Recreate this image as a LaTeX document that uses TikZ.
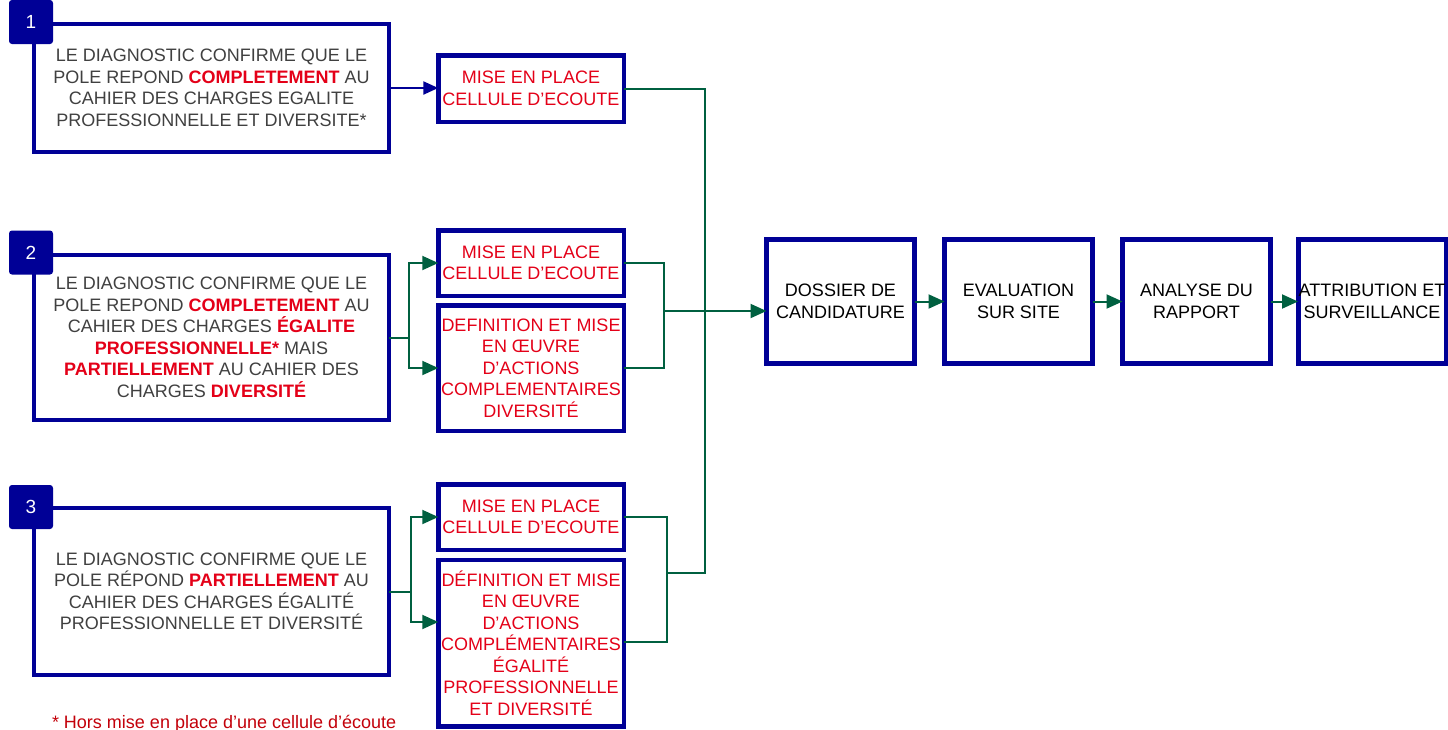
\documentclass[tikz,border=0pt]{standalone}
\usepackage{fontspec}
\setmainfont{Liberation Sans}
\usetikzlibrary{arrows.meta}
\definecolor{navy}{RGB}{0,0,150}
\definecolor{dgreen}{RGB}{0,96,64}
\definecolor{redT}{RGB}{228,0,24}
\definecolor{grayT}{RGB}{64,64,64}
\definecolor{footred}{RGB}{195,0,10}
\newcommand{\rb}[1]{\textcolor{redT}{\bfseries #1}}
\tikzset{
  every node/.style={inner sep=0pt, outer sep=0pt},
  txt/.style={font=\fontsize{18}{21.5}\selectfont, align=center},
  bigbox/.style={draw=navy, line width=4pt, fill=white, txt, text=grayT, minimum width=355pt},
  smallbox/.style={draw=navy, line width=4.5pt, fill=white, txt, text=redT, minimum width=185.5pt},
  stepbox/.style={draw=navy, line width=5pt, fill=white, txt, text=black, minimum width=148pt, minimum height=124pt},
  badge/.style={fill=navy, rounded corners=3pt, minimum width=44pt, minimum height=44pt, text=white, font=\fontsize{19}{20}\selectfont},
  gline/.style={draw=dgreen, line width=2pt},
  garrow/.style={gline, -{Triangle[length=16pt,width=14pt]}},
  barrow/.style={draw=navy, line width=2.4pt, -{Triangle[length=15pt,width=13pt]}},
}
\begin{document}
\begin{tikzpicture}[x=1pt,y=-1pt]
\useasboundingbox (0,0) rectangle (1448,729);
\fill[white] (0,0) rectangle (1448,729);

% left boxes
\node[bigbox, minimum height=128pt] (b1) at (211.5,88) {LE DIAGNOSTIC CONFIRME QUE LE\\POLE REPOND \rb{COMPLETEMENT} AU\\CAHIER DES CHARGES EGALITE\\PROFESSIONNELLE ET DIVERSITE*};
\node[badge] (n1) at (31,22) {1};

\node[bigbox, minimum height=165pt] (b2) at (211.5,337.5) {LE DIAGNOSTIC CONFIRME QUE LE\\POLE REPOND \rb{COMPLETEMENT} AU\\CAHIER DES CHARGES \rb{ÉGALITE}\\\rb{PROFESSIONNELLE*} MAIS\\\rb{PARTIELLEMENT} AU CAHIER DES\\CHARGES \rb{DIVERSITÉ}};
\node[badge] (n2) at (31,252.5) {2};

\node[bigbox, minimum height=167pt] (b3) at (211.5,591.5) {LE DIAGNOSTIC CONFIRME QUE LE\\POLE RÉPOND \rb{PARTIELLEMENT} AU\\CAHIER DES CHARGES ÉGALITÉ\\PROFESSIONNELLE ET DIVERSITÉ};
\node[badge] (n3) at (31,507) {3};

% middle boxes
\node[smallbox, minimum height=66.5pt] (c1) at (531,88.5) {MISE EN PLACE\\CELLULE D’ECOUTE};
\node[smallbox, minimum height=65.5pt] (c2a) at (531,263) {MISE EN PLACE\\CELLULE D’ECOUTE};
\node[smallbox, minimum height=125.5pt] (c2b) at (531,368) {DEFINITION ET MISE\\EN ŒUVRE\\D’ACTIONS\\COMPLEMENTAIRES\\DIVERSITÉ};
\node[smallbox, minimum height=65.5pt] (c3a) at (531,517) {MISE EN PLACE\\CELLULE D’ECOUTE};
\node[smallbox, minimum height=166.5pt] (c3b) at (531,643) {DÉFINITION ET MISE\\EN ŒUVRE\\D’ACTIONS\\COMPLÉMENTAIRES\\ÉGALITÉ\\PROFESSIONNELLE\\ET DIVERSITÉ};

% right chain
\node[stepbox] (d1) at (840.5,301.5) {DOSSIER DE\\CANDIDATURE};
\node[stepbox] (d2) at (1018.5,301.5) {EVALUATION\\SUR SITE};
\node[stepbox] (d3) at (1196.5,301.5) {ANALYSE DU\\RAPPORT};
\node[stepbox] (d4) at (1372,301.5) {ATTRIBUTION ET\\SURVEILLANCE};

% footnote
\node[font=\fontsize{18}{21.5}\selectfont, text=footred, anchor=base west] (fn) at (52,728) {* Hors mise en place d’une cellule d’écoute};

% coordinates
\coordinate (f2) at (409,337.5);
\coordinate (f3) at (411,591.5);
\coordinate (r2) at (664,311);
\coordinate (r3) at (667,573);
\coordinate (bus) at (705,573);

% connectors
\draw[barrow] (b1.east) -- (b1.east -| c1.west);
\draw[gline] (b2.east) -- (f2);
\draw[garrow] (f2) |- (c2a.west);
\draw[garrow] (f2) |- (c2b.west);
\draw[gline] (b3.east) -- (f3);
\draw[garrow] (f3) |- (c3a.west);
\draw[garrow] (f3) |- ([yshift=21pt]c3b.west);

\draw[gline] (c2a.east) -| (r2) |- (c2b.east);
\draw[gline] (c3a.east) -| (r3) |- ([yshift=1pt]c3b.east);
\draw[gline] (r3) -- (bus) |- (c1.east);
\draw[garrow] (r2) -- (r2 -| d1.west);

\draw[garrow] (d1.east) -- (d2.west);
\draw[garrow] (d2.east) -- (d3.west);
\draw[garrow] (d3.east) -- (d4.west);

\end{tikzpicture}
\end{document}
